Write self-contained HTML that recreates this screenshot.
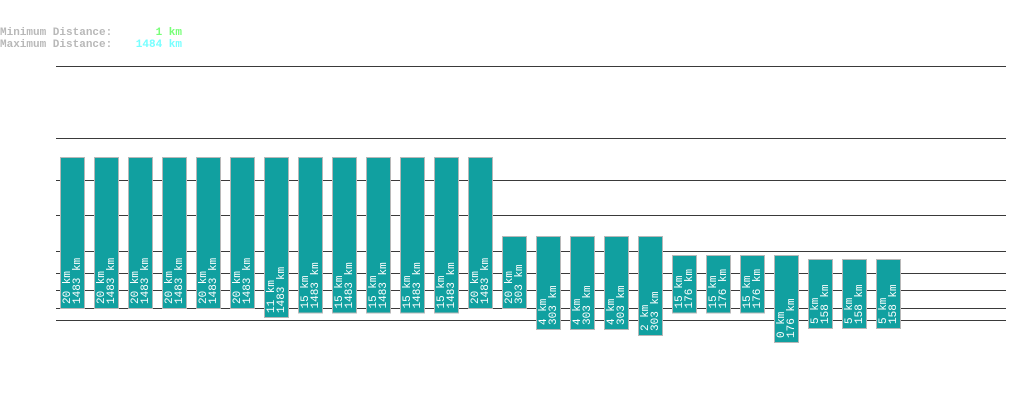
<!DOCTYPE html>
<html><head><meta charset="utf-8"><style>
body{margin:0;background:#fff;width:1019px;height:402px;overflow:hidden;font-family:"Liberation Mono","DejaVu Sans Mono",monospace}
svg{position:absolute;left:0;top:0}
</style></head><body>
<svg width="1019" height="402">
<g font-family="Liberation Mono, DejaVu Sans Mono, monospace" font-size="11" font-weight="bold">
<text x="0" y="35" fill="#b8b8b8">Minimum Distance:</text>
<text x="182" y="35" fill="#77ff77" text-anchor="end">1 km</text>
<text x="0" y="47" fill="#b8b8b8">Maximum Distance:</text>
<text x="182" y="47" fill="#77ffff" text-anchor="end">1484 km</text>
</g>
<g id="grid"></g>
<g id="bars"></g>
</svg>
<script>
const minDist=[20,20,20,20,20,20,11,15,15,15,15,15,20,20,4,4,4,2,15,15,15,0,5,5,5];
const maxDist=[1483,1483,1483,1483,1483,1483,1483,1483,1483,1483,1483,1483,1483,303,303,303,303,303,176,176,176,176,158,158,158];
const gridLevels=[66,138,180,215,251,273,290,308,320];
const NS='http://www.w3.org/2000/svg';
function interp(pts,v){pts=pts.slice().sort((a,b)=>a[0]-b[0]);
  if(v<=pts[0][0])return pts[0][1]+(v-pts[0][0])*(pts[1][1]-pts[0][1])/(pts[1][0]-pts[0][0]);
  for(let i=1;i<pts.length;i++){if(v<=pts[i][0]){const a=pts[i-1],b=pts[i];return a[1]+(v-a[0])*(b[1]-a[1])/(b[0]-a[0]);}}
  const a=pts[pts.length-2],b=pts[pts.length-1];return b[1]+(v-b[0])*(b[1]-a[1])/(b[0]-a[0]);}
const topScale=v=>interp([[158,259],[176,255],[303,236],[1483,157]],v);
const botScale=v=>interp([[0,342],[2,335],[4,329],[5,328],[11,317],[15,312.5],[20,308]],v);
const xScale=i=>61+i*34;
const grid=document.getElementById('grid');
gridLevels.forEach((y,i)=>{const l=document.createElementNS(NS,'line');
l.setAttribute('x1',56);l.setAttribute('x2',1006);l.setAttribute('y1',y+0.5);l.setAttribute('y2',y+0.5);
l.setAttribute('stroke','#3a3a3a');l.setAttribute('stroke-width',1);


grid.appendChild(l);});
const bars=document.getElementById('bars');
minDist.forEach((mn,i)=>{const mx=maxDist[i];const x=xScale(i),t=topScale(mx),b=botScale(mn);
const g=document.createElementNS(NS,'g');


const r=document.createElementNS(NS,'rect');
r.setAttribute('x',x-0.5);r.setAttribute('y',t+0.5);r.setAttribute('width',24);r.setAttribute('height',b-t);
r.setAttribute('fill','#11a0a0');r.setAttribute('stroke','#b8b8b8');r.setAttribute('stroke-width',1);
g.appendChild(r);
const tx=document.createElementNS(NS,'text');
tx.setAttribute('transform','translate('+(x+9)+','+(b-4)+') rotate(-90)');
tx.setAttribute('fill','#fff');tx.setAttribute('font-size','11');tx.setAttribute('font-family','Liberation Mono, DejaVu Sans Mono, monospace');


const s1=document.createElementNS(NS,'tspan');s1.setAttribute('x',0);s1.setAttribute('y',0);s1.textContent=mn+' km';
const s2=document.createElementNS(NS,'tspan');s2.setAttribute('x',0);s2.setAttribute('y',10);s2.textContent=mx+' km';
tx.appendChild(s1);tx.appendChild(s2);g.appendChild(tx);bars.appendChild(g);});
</script>
</body></html>
